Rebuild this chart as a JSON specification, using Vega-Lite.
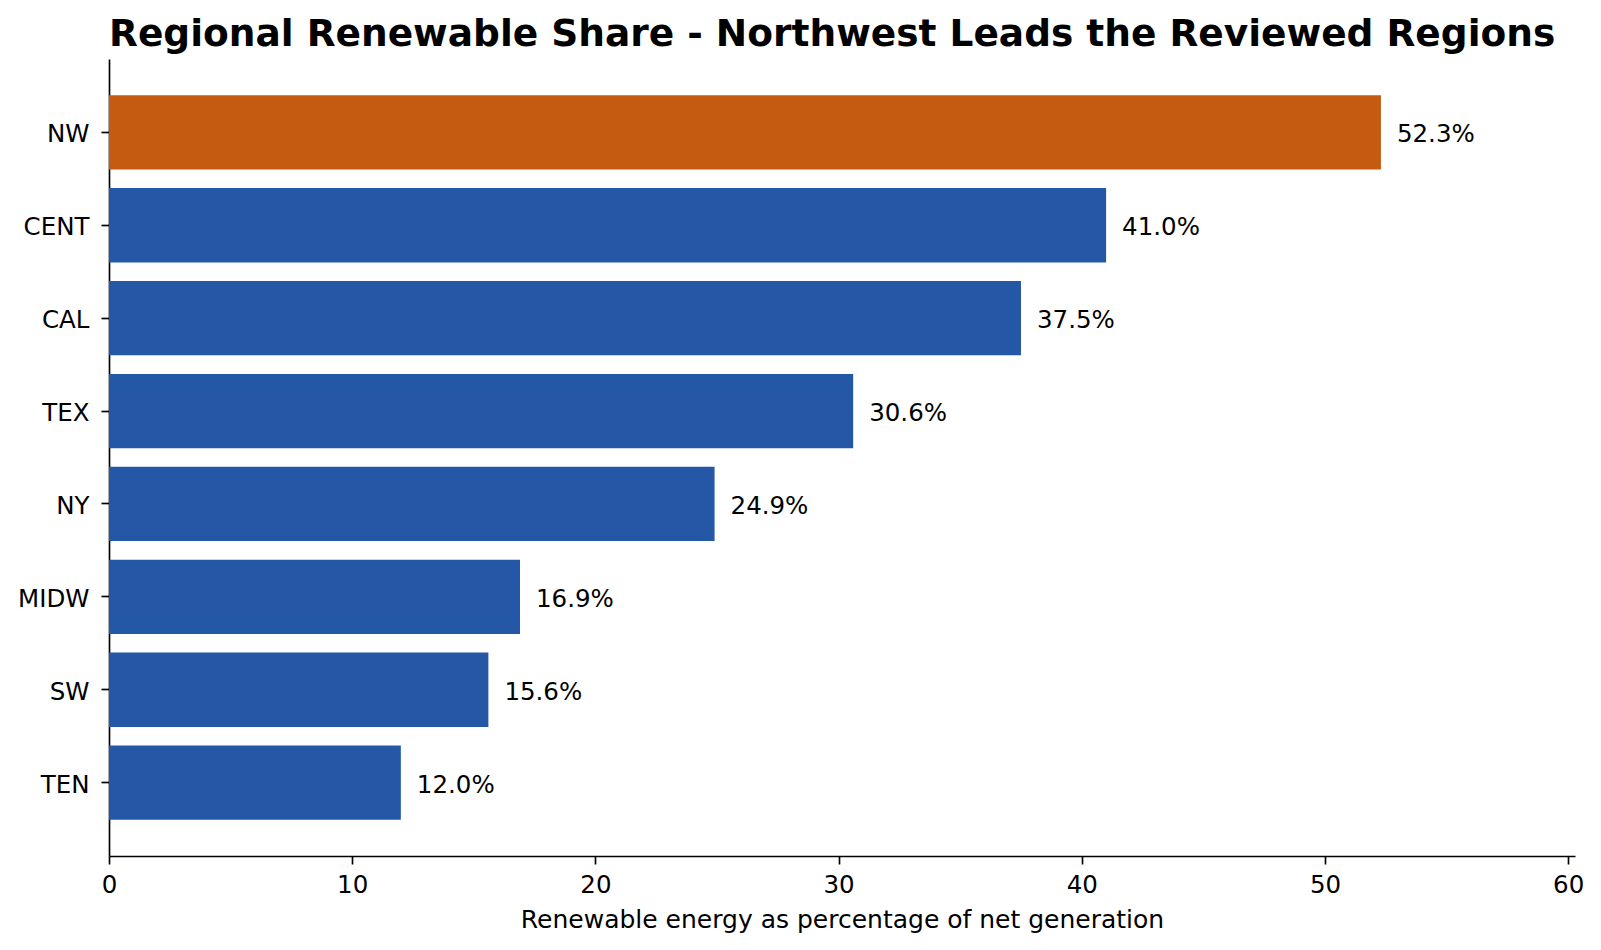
{
  "$schema": "https://vega.github.io/schema/vega-lite/v6.json",
  "width": 1466,
  "height": 797,
  "autosize": {"type": "none"},
  "padding": {"left": 109, "top": 59, "right": 26, "bottom": 94},
  "background": "white",
  "config": {
    "view": {"stroke": null},
    "font": "DejaVu Sans"
  },
  "title": {
    "text": "Regional Renewable Share - Northwest Leads the Reviewed Regions",
    "anchor": "start",
    "frame": "group",
    "font": "DejaVu Sans",
    "fontSize": 37.5,
    "fontWeight": "bold",
    "color": "black",
    "baseline": "alphabetic",
    "offset": 12.5,
    "dy": 37
  },
  "data": {
    "values": [
      {"region": "NW", "share": 52.3, "highlight": "yes"},
      {"region": "CENT", "share": 41.0, "highlight": "no"},
      {"region": "CAL", "share": 37.5, "highlight": "no"},
      {"region": "TEX", "share": 30.6, "highlight": "no"},
      {"region": "NY", "share": 24.9, "highlight": "no"},
      {"region": "MIDW", "share": 16.9, "highlight": "no"},
      {"region": "SW", "share": 15.6, "highlight": "no"},
      {"region": "TEN", "share": 12.0, "highlight": "no"}
    ]
  },
  "transform": [
    {"calculate": "format(datum.share, '.1f') + '%'", "as": "label"}
  ],
  "encoding": {
    "y": {
      "field": "region",
      "type": "nominal",
      "sort": null,
      "scale": {"paddingInner": 0.2, "paddingOuter": 0.39},
      "axis": {
        "title": null,
        "domainColor": "black",
        "domainWidth": 1.67,
        "tickColor": "black",
        "tickWidth": 1.67,
        "tickSize": 8,
        "labelPadding": 12,
        "labelOffset": 3,
        "labelFont": "DejaVu Sans",
        "labelFontSize": 24.5,
        "labelColor": "black",
        "grid": false
      }
    },
    "x": {
      "field": "share",
      "type": "quantitative",
      "scale": {"domain": [0, 60.28], "nice": false},
      "axis": {
        "title": "Renewable energy as percentage of net generation",
        "values": [0, 10, 20, 30, 40, 50, 60],
        "format": "d",
        "domainColor": "black",
        "domainWidth": 1.67,
        "tickColor": "black",
        "tickWidth": 1.67,
        "tickSize": 8,
        "labelPadding": 9,
        "labelFont": "DejaVu Sans",
        "labelFontSize": 24.5,
        "labelColor": "black",
        "labelFlush": false,
        "titleFont": "DejaVu Sans",
        "titleFontSize": 25,
        "titleFontWeight": "normal",
        "titleColor": "black",
        "titlePadding": 11,
        "grid": false
      }
    }
  },
  "layer": [
    {
      "mark": {"type": "bar"},
      "encoding": {
        "color": {
          "field": "highlight",
          "type": "nominal",
          "scale": {"domain": ["yes", "no"], "range": ["#C55A11", "#2557A7"]},
          "legend": null
        }
      }
    },
    {
      "mark": {
        "type": "text",
        "align": "left",
        "baseline": "middle",
        "dx": 16,
        "dy": 3,
        "font": "DejaVu Sans",
        "fontSize": 24.5,
        "color": "black"
      },
      "encoding": {
        "text": {"field": "label", "type": "nominal"}
      }
    }
  ]
}
